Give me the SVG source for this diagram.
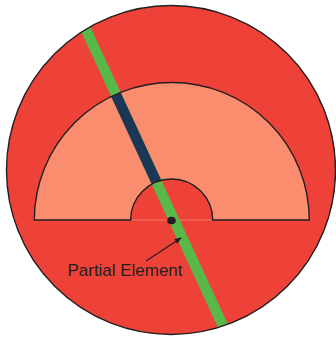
<svg xmlns="http://www.w3.org/2000/svg" width="336" height="337" viewBox="0 0 336 337">
<style>
.outline{fill:none;stroke:#231f20;stroke-width:1.4;stroke-linejoin:miter}
.lbl{font-family:"Liberation Sans",Arial,sans-serif;font-size:17px;fill:#231f20}
</style>
<defs>
<clipPath id="cCircle"><circle cx="171" cy="170" r="164.5"/></clipPath>
<clipPath id="cSemi"><path d="M34.3,220 A137.5,137.5 0 0 1 309.3,220 L212.7,220 A41,41 0 0 0 130.7,220 Z"/></clipPath>
<polygon id="strip" points="79.6,3.6 240.8,352 231.4,356.4 70.2,8"/>
<marker id="ah" viewBox="0 0 10 10" refX="9" refY="5" markerWidth="7" markerHeight="7" markerUnits="userSpaceOnUse" orient="auto">
<path d="M0,1 L10,5 L0,9 Z" fill="#231f20"/>
</marker>
</defs>
<g id="disk">
<circle cx="171" cy="170" r="164.5" fill="#ee4238"/>
</g>
<g id="half-ring">
<path d="M34.3,220 A137.5,137.5 0 0 1 309.3,220 L212.7,220 A41,41 0 0 0 130.7,220 Z" fill="#fa8d6d"/>
<line x1="130.7" y1="220" x2="212.7" y2="220" stroke="#f7876a" stroke-width="0.8"/>
</g>
<g id="element-strip">
<use href="#strip" fill="#58b848" clip-path="url(#cCircle)"/>
<use href="#strip" fill="#1c3655" clip-path="url(#cSemi)"/>
</g>
<g id="outlines">
<path class="outline" d="M34.3,220 A137.5,137.5 0 0 1 309.3,220 L212.7,220 A41,41 0 0 0 130.7,220 Z"/>
<circle class="outline" cx="171" cy="170" r="164.5" stroke-width="1.2"/>
</g>
<g id="point">
<ellipse cx="171.5" cy="220.5" rx="4.3" ry="3.8" fill="#231f20"/>
</g>
<g id="connectors">
<line x1="146" y1="261" x2="181" y2="238" stroke="#231f20" stroke-width="1.1" marker-end="url(#ah)"/>
</g>
<g id="label">
<text class="lbl" x="67.5" y="275.5" textLength="115" lengthAdjust="spacingAndGlyphs">Partial Element</text>
</g>
</svg>
